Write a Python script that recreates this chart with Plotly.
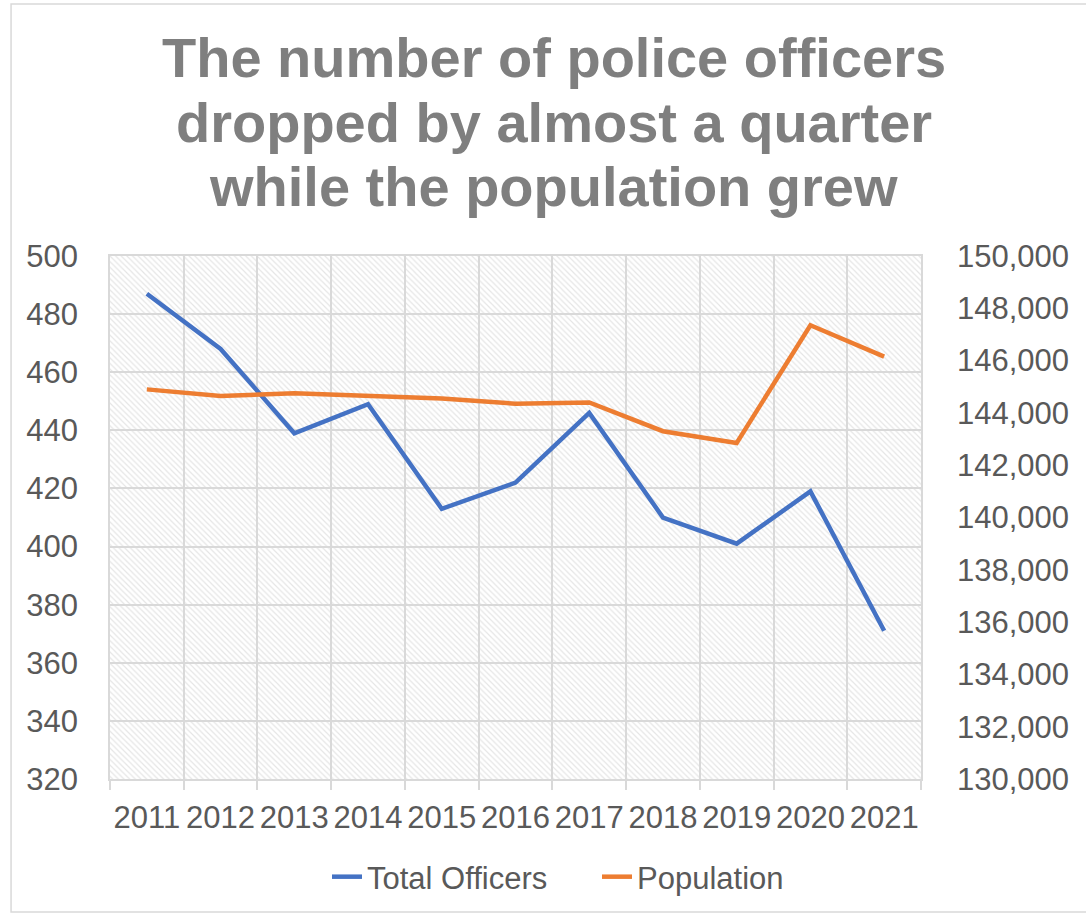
import plotly.graph_objects as go

years = ["2011", "2012", "2013", "2014", "2015", "2016", "2017", "2018", "2019", "2020", "2021"]
total_officers = [487, 468, 439, 449, 413, 422, 446, 410, 401, 419, 371]
population = [144900, 144650, 144750, 144650, 144550, 144350, 144400, 143300, 142850, 147350, 146150]

title_lines = [
    "The number of police officers",
    "dropped by almost a quarter",
    "while the population grew",
]

GRID = "#d9d9d9"
TEXT = "#595959"
FONT = "Liberation Sans, Arial, sans-serif"

fig = go.Figure()

# Hatched plot-area background on its own (first) subplot, so the
# gridlines of the data subplot are painted on top of it.
fig.add_trace(go.Bar(
    x=[0.5], y=[1], width=[1], base=[0],
    xaxis="x", yaxis="y",
    marker=dict(
        color="white",
        line=dict(width=0),
        pattern=dict(shape="\\", fgcolor="#cccccc", bgcolor="white",
                     size=4, solidity=0.3),
    ),
    hoverinfo="skip", showlegend=False,
))

fig.add_trace(go.Scatter(
    x=years, y=total_officers, name="Total Officers",
    mode="lines", line=dict(color="#4472c4", width=4.5),
    xaxis="x2", yaxis="y2",
))
fig.add_trace(go.Scatter(
    x=years, y=population, name="Population",
    mode="lines", line=dict(color="#ed7d31", width=4.5),
    xaxis="x2", yaxis="y3",
))

# Title, one annotation per line for tighter leading
title_y = [1.3786, 1.2562, 1.1338]
annotations = [
    dict(text=t, xref="paper", yref="paper", x=0.5469, y=yy,
         xanchor="center", yanchor="middle", showarrow=False,
         font=dict(family=FONT, size=56, color="#7f7f7f", weight="bold"))
    for t, yy in zip(title_lines, title_y)
]

fig.update_layout(
    width=1086, height=913,
    margin=dict(l=110, r=165, t=256, b=134),
    paper_bgcolor="white",
    plot_bgcolor="rgba(0,0,0,0)",
    font=dict(family=FONT, size=31, color=TEXT),
    xaxis=dict(range=[0, 1], visible=False, domain=[0, 1], fixedrange=True),
    yaxis=dict(range=[0, 1], visible=False, domain=[0, 1], fixedrange=True),
    xaxis2=dict(
        domain=[0, 1], anchor="y2", type="category", range=[-0.5, 10.5],
        tickson="boundaries", ticks="outside", ticklen=9,
        tickcolor=GRID, tickwidth=1.5, tickangle=0, automargin=False,
        showgrid=True, gridcolor=GRID, gridwidth=1.5,
        showline=True, linecolor=GRID, linewidth=1.5, mirror=True,
        tickfont=dict(size=31, color=TEXT),
        ticklabelstandoff=10,
    ),
    yaxis2=dict(
        domain=[0, 1], anchor="x2", range=[320, 500], dtick=20,
        showgrid=True, gridcolor=GRID, gridwidth=1.5,
        showline=True, linecolor=GRID, linewidth=1.5, mirror=True,
        zeroline=False, ticks="", automargin=False,
        tickfont=dict(size=31, color=TEXT),
        ticklabelstandoff=24,
    ),
    yaxis3=dict(
        overlaying="y2", anchor="x2", side="right",
        range=[130000, 150000], dtick=2000, tickformat=",",
        showgrid=False, zeroline=False, ticks="", automargin=False,
        tickfont=dict(size=31, color=TEXT),
        ticklabelstandoff=35,
    ),
    showlegend=True,
    legend=dict(
        orientation="h", xref="container", yref="container",
        x=0.3011, y=0.0394, xanchor="left", yanchor="middle",
        font=dict(size=31, color=TEXT), bgcolor="rgba(0,0,0,0)",
        itemwidth=30, entrywidth=225, entrywidthmode="pixels",
    ),
    annotations=annotations,
    shapes=[dict(
        type="rect", xref="paper", yref="paper",
        x0=-0.122, x1=1.3, y0=-0.2543, y1=1.4818,
        line=dict(color=GRID, width=1.5), layer="below",
    )],
)

fig.write_html("out.html")
